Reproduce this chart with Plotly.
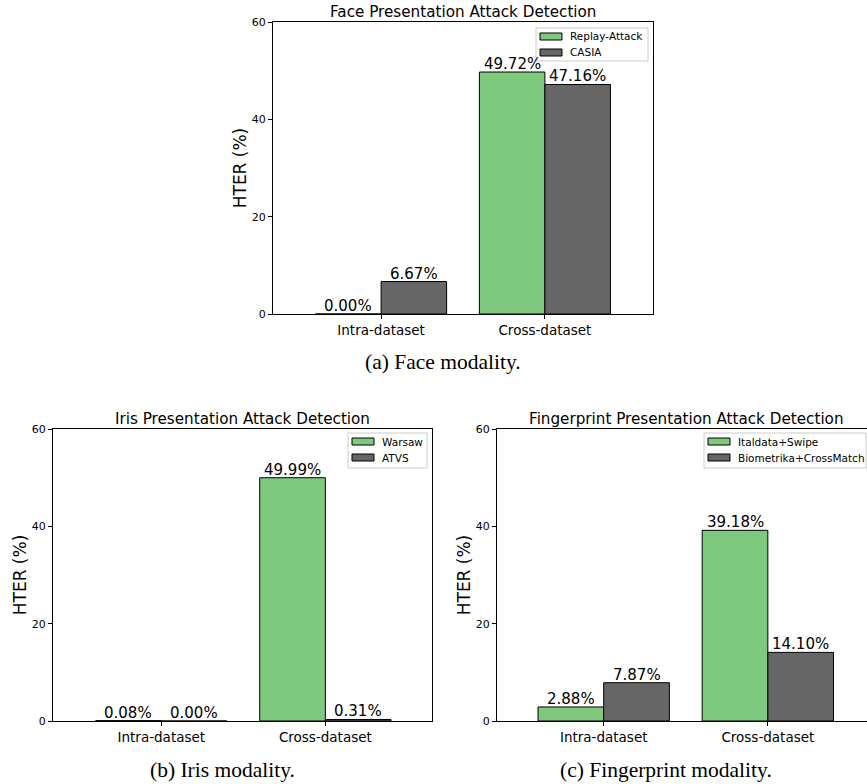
import plotly.graph_objects as go

categories = ["Intra-dataset", "Cross-dataset"]
cat_pos = [0, 1]

face_titles = "Face Presentation Attack Detection"
face_series = ["Replay-Attack", "CASIA"]
face_a = [0.00, 49.72]
face_b = [6.67, 47.16]

iris_titles = "Iris Presentation Attack Detection"
iris_series = ["Warsaw", "ATVS"]
iris_a = [0.08, 49.99]
iris_b = [0.00, 0.31]

fp_titles = "Fingerprint Presentation Attack Detection"
fp_series = ["Italdata+Swipe", "Biometrika+CrossMatch"]
fp_a = [2.88, 39.18]
fp_b = [7.87, 14.10]

captions = ["(a) Face modality.", "(b) Iris modality.", "(c) Fingerprint modality."]
y_ticks = [0, 20, 40, 60]

GREEN = "#7fc97f"
GRAY = "#666666"
W, H = 867, 784
SANS = "DejaVu Sans"
SERIF = "Liberation Serif"
BW = 0.4

def px_x(p):
    return p / W

def px_y(p):
    return 1 - p / H

panels = [
    dict(title=face_titles, names=face_series, a=face_a, b=face_b,
         xd=[px_x(273), px_x(653)], yd=[px_y(314), px_y(22)],
         xr=[-0.66, 1.66], legbox=(536, 28, 648, 61), cap=(px_x(443), px_y(362)),
         tx=px_x(463), ymirror=True),
    dict(title=iris_titles, names=iris_series, a=iris_a, b=iris_b,
         xd=[px_x(53), px_x(432)], yd=[px_y(721), px_y(429)],
         xr=[-0.66, 1.65], legbox=(348, 433, 427, 468), cap=(px_x(223), px_y(770)),
         tx=px_x(242), ymirror=True),
    dict(title=fp_titles, names=fp_series, a=fp_a, b=fp_b,
         xd=[px_x(497), 1.0], yd=[px_y(721), px_y(429)],
         xr=[-0.65, 1.604], legbox=(704, 433, 866, 468), cap=(px_x(666), px_y(770)),
         tx=px_x(686), ymirror=False),
]

fig = go.Figure()
annotations = []
shapes = []
layout = dict(
    width=W, height=H,
    margin=dict(l=0, r=0, t=0, b=0, pad=0, autoexpand=False),
    paper_bgcolor="white", plot_bgcolor="white",
    font=dict(family=SANS, color="black"),
    barmode="group", bargap=0.2, bargroupgap=0.0,
    showlegend=False,
)

for i, p in enumerate(panels):
    n = "" if i == 0 else str(i + 1)
    xa, ya = "x" + n, "y" + n
    offsets = [-BW / 2, BW / 2]
    series = [(p["a"], GREEN, p["names"][0]), (p["b"], GRAY, p["names"][1])]
    for k, (vals, col, name) in enumerate(series):
        fig.add_trace(go.Bar(
            x=cat_pos, y=vals, name=name, xaxis=xa, yaxis=ya,
            width=BW, offset=offsets[k] - BW / 2,
            marker=dict(color=col, line=dict(color="black", width=1)),
            hoverinfo="skip",
        ))
        for cx, v in zip(cat_pos, vals):
            annotations.append(dict(
                x=cx + offsets[k], y=v, xref=xa, yref=ya, text=f"{v:.2f}%",
                showarrow=False, xanchor="center", yanchor="bottom", yshift=-3,
                font=dict(family=SANS, size=15, color="black"),
            ))
    # legend (drawn box, swatches and labels)
    bx0, by0, bx1, by1 = p["legbox"]
    shapes.append(dict(
        type="rect", xref="paper", yref="paper", layer="above",
        x0=px_x(bx0), x1=px_x(bx1), y0=px_y(by1), y1=px_y(by0),
        fillcolor="rgba(255,255,255,0.8)", line=dict(color="#cccccc", width=1),
    ))
    for k, (vals, col, name) in enumerate(series):
        cy = by0 + 8.5 + 16 * k
        shapes.append(dict(
            type="rect", xref="paper", yref="paper", layer="above",
            x0=px_x(bx0 + 4), x1=px_x(bx0 + 26), y0=px_y(cy + 3.5), y1=px_y(cy - 3.5),
            fillcolor=col, line=dict(color="black", width=1),
        ))
        annotations.append(dict(
            x=px_x(bx0 + 32), y=px_y(cy), xref="paper", yref="paper", text=name,
            showarrow=False, xanchor="left", yanchor="middle",
            font=dict(family=SANS, size=10.5, color="black"),
        ))
    layout["xaxis" + n] = dict(
        domain=p["xd"], anchor=ya, range=p["xr"],
        tickmode="array", tickvals=cat_pos, ticktext=categories,
        showline=True, linecolor="black", linewidth=1, mirror=True,
        ticks="outside", ticklen=4, tickcolor="black",
        tickfont=dict(family=SANS, size=13.5, color="black"),
        showgrid=False, zeroline=False, fixedrange=True, automargin=False,
    )
    layout["yaxis" + n] = dict(
        domain=p["yd"], anchor=xa, range=[0, 60],
        tickmode="array", tickvals=y_ticks,
        showline=True, linecolor="black", linewidth=1, mirror=p["ymirror"],
        ticks="outside", ticklen=4, tickcolor="black",
        tickfont=dict(family=SANS, size=11, color="black"),
        title=dict(text="HTER (%)", font=dict(family=SANS, size=17, color="black"), standoff=0),
        showgrid=False, zeroline=False, fixedrange=True, automargin=False,
    )
    annotations.append(dict(
        x=p["tx"], y=p["yd"][1],
        xref="paper", yref="paper", text=p["title"], showarrow=False,
        xanchor="center", yanchor="bottom", yshift=-1,
        font=dict(family=SANS, size=15.2, color="black"),
    ))
    annotations.append(dict(
        x=p["cap"][0], y=p["cap"][1], xref="paper", yref="paper", text=captions[i],
        showarrow=False, xanchor="center", yanchor="middle",
        font=dict(family=SERIF, size=21.5, color="black"),
    ))

layout["annotations"] = annotations
layout["shapes"] = shapes
fig.update_layout(**layout)
fig.write_html(
    "out.html",
    config={"displayModeBar": False},
    post_script="document.body.style.margin='0';document.body.style.overflow='hidden';",
)
